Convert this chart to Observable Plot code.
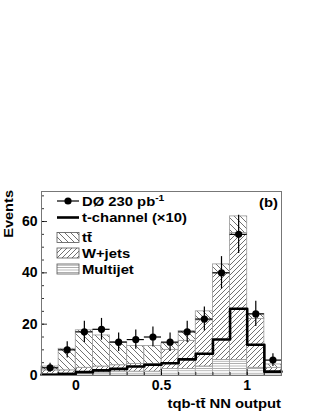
<!DOCTYPE html>
<html><head><meta charset="utf-8">
<script src="https://cdn.jsdelivr.net/npm/d3@7"></script>
<script src="https://cdn.jsdelivr.net/npm/@observablehq/plot@0.6"></script>
<style>
html,body{margin:0;padding:0;background:#fff;}
svg{font-family:"Liberation Sans",Arial,sans-serif;}
</style></head><body><div id="chart"></div>
<script>
const binLo    = [-0.2,-0.1,0.0,0.1,0.2,0.3,0.4,0.5,0.6,0.7,0.8,0.9,1.0,1.1];
const binWidth = 0.1;
const dataCounts = [3,10,17,18,13,14,15,13,17,22,40,55,24,6];
const multijet   = [0.5,0.8,1.0,1.2,1.5,1.5,1.5,2.5,2.5,3.5,6.0,6.0,3.0,1.0];
const wjets      = [1.5,1.2,2.0,2.3,2.5,3.0,3.0,7.5,11.0,18.0,34.0,49.5,19.0,2.0];
const ttbar      = [1.5,8.4,14.6,12.1,9.0,7.0,7.0,2.5,3.8,3.5,3.3,6.5,2.0,1.3];
const tchannel10 = [0.3,0.6,1.3,2.0,2.6,3.5,4.2,4.8,6.3,8.5,14,26,12,1.5];
const xTicks = [0,0.5,1];
const yTicks = [0,20,40,60];
const legendLabels = ["DØ 230 pb", "t-channel (×10)", "tt̄", "W+jets", "Multijet"];
const xLabel = "tqb-tt̄ NN output";
const yLabel = "Events";
const panelLabel = "(b)";

// stacked table
const stackRows = [];
binLo.forEach((lo,i)=>{
  let base = 0;
  [["mj",multijet[i]],["wj",wjets[i]],["tt",ttbar[i]]].forEach(([c,v])=>{
    stackRows.push({comp:c, x1:lo, x2:lo+binWidth, y1:base, y2:base+v});
    base += v;
  });
});
const dataRows = binLo.map((lo,i)=>({lo, hi:lo+binWidth, xc:lo+binWidth/2, n:dataCounts[i],
  lo_e:dataCounts[i]-Math.sqrt(dataCounts[i]), hi_e:dataCounts[i]+Math.sqrt(dataCounts[i])}));
const stepRows = binLo.map((lo,i)=>({x:lo, y:tchannel10[i]}));
stepRows.push({x:binLo[binLo.length-1]+binWidth, y:tchannel10[tchannel10.length-1]});

const W=320,H=414,mT=191,mB=39,mL=41,mR=39;
const frameH=H-mT-mB, frameW=W-mL-mR;
const minorX = d3.range(-2,13).map(k=>k/10);
const minorY = d3.range(0,15).map(k=>k*5);
const fill = {mj:"url(#patMJ)", wj:"url(#patWJ)", tt:"url(#patTT)"};

const plot = Plot.plot({
  width:W, height:H, marginTop:mT, marginBottom:mB, marginLeft:mL, marginRight:mR,
  style:{fontFamily:'"Liberation Sans",Arial,sans-serif', fontSize:"14px", fontWeight:"bold", background:"#fff", color:"#000"},
  x:{domain:[-0.2,1.2]},
  y:{domain:[0,71.7]},
  marks:[
    Plot.rect(stackRows.filter(d=>d.comp==="mj"), {x1:"x1",x2:"x2",y1:"y1",y2:"y2", fill:fill.mj, stroke:"#aaa", strokeWidth:0.8}),
    Plot.rect(stackRows.filter(d=>d.comp==="wj"), {x1:"x1",x2:"x2",y1:"y1",y2:"y2", fill:fill.wj, stroke:"#999", strokeWidth:0.8}),
    Plot.rect(stackRows.filter(d=>d.comp==="tt"), {x1:"x1",x2:"x2",y1:"y1",y2:"y2", fill:fill.tt, stroke:"#999", strokeWidth:0.8}),
    Plot.line(stepRows, {x:"x", y:"y", curve:"step-after", stroke:"#000", strokeWidth:2.6}),
    Plot.ruleX(dataRows, {x:"xc", y1:"lo_e", y2:"hi_e", stroke:"#000", strokeWidth:1.2}),
    Plot.ruleY(dataRows, {y:"n", x1:"lo", x2:"hi", stroke:"#000", strokeWidth:1.2}),
    Plot.dot(dataRows, {x:"xc", y:"n", r:3.6, fill:"#000", stroke:"none"}),
    Plot.ruleX(minorX, {x:d=>d, insetTop:frameH-3, stroke:"#000", strokeWidth:0.8}),
    Plot.ruleX(xTicks, {x:d=>d, insetTop:frameH-6, stroke:"#000", strokeWidth:0.8}),
    Plot.ruleY(minorY, {y:d=>d, insetRight:frameW-3, stroke:"#000", strokeWidth:0.8}),
    Plot.ruleY(yTicks, {y:d=>d, insetRight:frameW-6, stroke:"#000", strokeWidth:0.8}),
    Plot.axisX({ticks:xTicks, tickSize:0, tickPadding:5, tickFormat:d=>String(d), label:null}),
    Plot.axisY({ticks:yTicks, tickSize:0, tickPadding:4, label:null}),
    Plot.frame({stroke:"#777", strokeWidth:1})
  ]
});
document.getElementById("chart").appendChild(plot);

const svg = d3.select(plot);
const defs = svg.insert("defs", ":first-child");
function pat(id, w, h, paths, color, sw){
  const p = defs.append("pattern").attr("id",id).attr("patternUnits","userSpaceOnUse").attr("width",w).attr("height",h);
  p.append("rect").attr("width",w).attr("height",h).attr("fill","#fff");
  p.append("path").attr("d",paths).attr("stroke",color).attr("stroke-width",sw).attr("fill","none");
}
pat("patTT",6,6,"M-1,-1L7,7M-1,5L1,7M5,-1L7,1","#333",0.7);
pat("patWJ",5,5,"M-1,6L6,-1M-1,1L1,-1M4,6L6,4","#333",0.7);
pat("patMJ",4,2.4,"M0,1.2H4","#777",0.6);

const font = '"Liberation Sans",Arial,sans-serif';
const g = svg.append("g").attr("font-family",font).attr("font-weight","bold").attr("font-size",13).attr("fill","#000").attr("text-anchor","start");
const sX = 1.14; // horizontal stretch of the lettering
function txt(x, y, t, anchor){
  return g.append("text").attr("transform",`translate(${x},${y}) scale(${sX},1)`).attr("text-anchor",anchor||"start").text(t);
}
// legend
const rowsY = [201, 217.5, 237.5, 253, 269];
const sx1 = 57, sx2 = 79, tx = 82;
g.append("line").attr("x1",sx1).attr("x2",sx2).attr("y1",rowsY[0]).attr("y2",rowsY[0]).attr("stroke","#000").attr("stroke-width",1.2);
g.append("circle").attr("cx",(sx1+sx2)/2).attr("cy",rowsY[0]).attr("r",3.6).attr("fill","#000");
g.append("line").attr("x1",sx1).attr("x2",sx2).attr("y1",rowsY[1]).attr("y2",rowsY[1]).attr("stroke","#000").attr("stroke-width",2.6);
["patTT","patWJ","patMJ"].forEach((p,k)=>{
  g.append("rect").attr("x",sx1).attr("y",rowsY[k+2]-5).attr("width",sx2-sx1).attr("height",10)
   .attr("fill",`url(#${p})`).attr("stroke","#555").attr("stroke-width",0.8);
});
legendLabels.forEach((t,k)=>{
  const el = txt(tx, rowsY[k]+4.7, t);
  if(k===0){ el.append("tspan").attr("dy",-5).attr("font-size",9).text("-1"); }
});
txt(278, 207, panelLabel, "end");
txt(281, 408, xLabel, "end");
g.append("text").attr("transform","translate(13,190) rotate(-90) scale(1.08,1)").attr("text-anchor","end").attr("font-size",13.5).text(yLabel);
</script></body></html>
